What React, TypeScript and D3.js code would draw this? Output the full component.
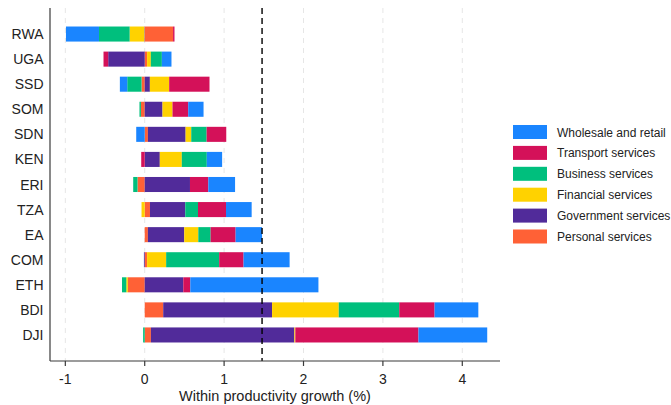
import React from "react";
import * as d3 from "d3";

// Countries / aggregates, top to bottom
const countries = ["RWA", "UGA", "SSD", "SOM", "SDN", "KEN", "ERI", "TZA", "EA", "COM", "ETH", "BDI", "DJI"];

// Sector contributions to within productivity growth (percentage points), per country
const personal = [0.357, 0.03, -0.04, -0.048, 0.04, 0, -0.091, 0.066, 0.04, 0.03, -0.212, 0.233, 0.078];
const government = [-0.005, -0.46, 0.065, 0.224, 0.475, 0.19, 0.57, 0.445, 0.458, -0.01, 0.486, 1.371, 1.807];
const financial = [-0.185, 0.047, 0.243, 0.126, 0.071, 0.277, 0, -0.04, 0.177, 0.24, -0.02, 0.84, 0.012];
const business = [-0.386, 0.139, -0.18, -0.018, 0.194, 0.315, -0.054, 0.16, 0.155, 0.668, -0.054, 0.762, -0.02];
const transport = [0.018, -0.059, 0.508, 0.198, 0.247, -0.044, 0.231, 0.353, 0.315, 0.307, 0.088, 0.445, 1.551];
const wholesale = [-0.416, 0.121, -0.093, 0.193, -0.107, 0.193, 0.337, 0.323, 0.333, 0.58, 1.614, 0.551, 0.866];

// Stacking order (from zero outward) and legend labels
const sectorKeys = ["personal", "government", "financial", "business", "transport", "wholesale"];
const sectorLabels = [
  "Personal services",
  "Government services",
  "Financial services",
  "Business services",
  "Transport services",
  "Wholesale and retail",
];
const sectorColors = ["#ff6136", "#512b9a", "#ffd200", "#00bf7d", "#d41159", "#1a85ff"];

const xTicks = [-1, 0, 1, 2, 3, 4];
const xDomain = [-1.193, 4.475];
const referenceCountry = "EA";
const xTitle = "Within productivity growth (%)";

const W = 671;
const H = 405;
const plot = { left: 50, right: 500, top: 8, bottom: 361 };

export default function App() {
  const seriesValues: Record<string, number[]> = {
    personal,
    government,
    financial,
    business,
    transport,
    wholesale,
  };
  const rows = countries.map((c, i) => {
    const r: any = { country: c };
    sectorKeys.forEach((k) => (r[k] = seriesValues[k][i]));
    return r;
  });

  const stack = d3.stack<any>().keys(sectorKeys).offset(d3.stackOffsetDiverging);
  const layers = stack(rows);

  const x = d3.scaleLinear().domain(xDomain).range([plot.left, plot.right]);
  const y = d3
    .scaleBand()
    .domain(countries)
    .range([21.5, 347.5])
    .paddingInner(0.4)
    .paddingOuter(0.2);

  const refIdx = countries.indexOf(referenceCountry);
  const refValue = d3.sum(sectorKeys, (k) => seriesValues[k][refIdx]);

  const font = "'Liberation Sans', Arial, sans-serif";
  const textColor = "#222";
  const axisColor = "#3a3a3a";

  const legendX = 513;
  const legendTop = 125;
  const legendStep = 20.9;
  const legendOrder = [...sectorKeys.keys()].reverse();

  return (
    <svg
      width={W}
      height={H}
      style={{ position: "absolute", left: 0, top: 0, background: "#fff" }}
      fontFamily={font}
    >
      <rect x={0} y={0} width={W} height={H} fill="#fff" />
      {/* vertical grid */}
      {xTicks.map((t) => (
        <line
          key={"g" + t}
          x1={x(t)}
          x2={x(t)}
          y1={plot.top}
          y2={plot.bottom}
          stroke="#e6e6e6"
          strokeWidth={1}
          strokeDasharray="5,5"
        />
      ))}
      {/* stacked bars */}
      {layers.map((layer, li) => (
        <g key={layer.key} fill={sectorColors[li]}>
          {layer.map((d, i) => {
            const x0 = x(Math.min(d[0], d[1]));
            const x1 = x(Math.max(d[0], d[1]));
            if (x1 - x0 <= 0) return null;
            return (
              <rect
                key={i}
                x={x0}
                y={y(countries[i])!}
                width={x1 - x0}
                height={y.bandwidth()}
              />
            );
          })}
        </g>
      ))}
      {/* reference line at regional total */}
      <line
        x1={x(refValue)}
        x2={x(refValue)}
        y1={plot.top}
        y2={plot.bottom}
        stroke="#000"
        strokeWidth={1.4}
        strokeDasharray="6,4"
      />
      {/* axes */}
      <line x1={plot.left} x2={plot.left} y1={plot.top} y2={plot.bottom} stroke={axisColor} strokeWidth={1.2} />
      <line x1={plot.left} x2={plot.right} y1={plot.bottom} y2={plot.bottom} stroke={axisColor} strokeWidth={1.2} />
      {xTicks.map((t) => (
        <g key={"t" + t}>
          <line x1={x(t)} x2={x(t)} y1={plot.bottom} y2={plot.bottom + 5} stroke={axisColor} strokeWidth={1.2} />
          <text x={x(t)} y={383.5} textAnchor="middle" fontSize={14} fill={textColor}>
            {t}
          </text>
        </g>
      ))}
      {countries.map((c) => (
        <text
          key={"c" + c}
          x={43.5}
          y={y(c)! + y.bandwidth() / 2 + 5}
          textAnchor="end"
          fontSize={14}
          fill={textColor}
        >
          {c}
        </text>
      ))}
      <text x={(plot.left + plot.right) / 2} y={401} textAnchor="middle" fontSize={14.5} fill={textColor}>
        {xTitle}
      </text>
      {/* legend */}
      {legendOrder.map((si, j) => (
        <g key={"l" + si}>
          <rect x={legendX} y={legendTop + j * legendStep} width={34} height={14} fill={sectorColors[si]} />
          <text x={557} y={legendTop + j * legendStep + 11.5} fontSize={12} fill={textColor}>
            {sectorLabels[si]}
          </text>
        </g>
      ))}
    </svg>
  );
}
